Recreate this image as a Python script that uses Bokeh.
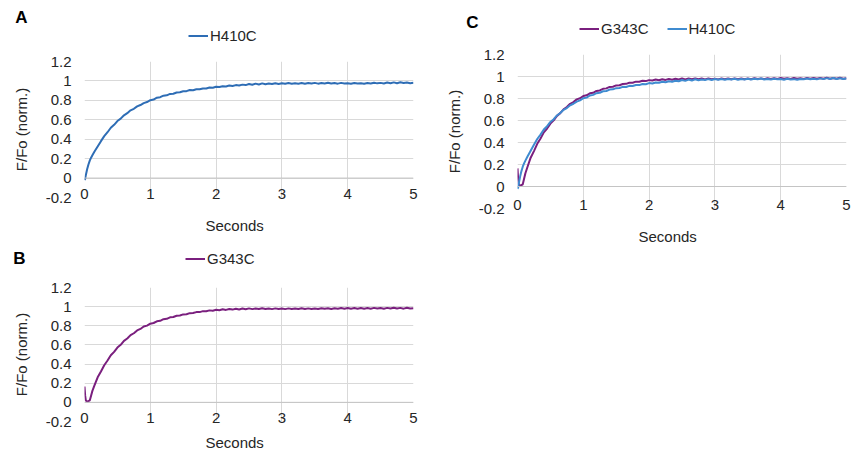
from bokeh.plotting import figure
from bokeh.models import (Range1d, FixedTicker, Legend, LegendItem, Span, Title)
from bokeh.layouts import row, column
from bokeh.embed import file_html
from bokeh.resources import INLINE

FONT = "Liberation Sans"

# ---- data ----
t = [0.0, 0.01, 0.02, 0.04, 0.06, 0.08, 0.10, 0.12, 0.15,
     0.20, 0.25, 0.30, 0.35, 0.40, 0.45, 0.50, 0.55, 0.60, 0.65,
     0.70, 0.75, 0.80, 0.85, 0.90, 0.95, 1.00, 1.05, 1.10, 1.15,
     1.20, 1.25, 1.30, 1.35, 1.40, 1.45, 1.50, 1.55, 1.60, 1.65,
     1.70, 1.75, 1.80, 1.85, 1.90, 1.95, 2.00, 2.05, 2.10, 2.15,
     2.20, 2.25, 2.30, 2.35, 2.40, 2.45, 2.50, 2.55, 2.60, 2.65,
     2.70, 2.75, 2.80, 2.85, 2.90, 2.95, 3.00, 3.05, 3.10, 3.15,
     3.20, 3.25, 3.30, 3.35, 3.40, 3.45, 3.50, 3.55, 3.60, 3.65,
     3.70, 3.75, 3.80, 3.85, 3.90, 3.95, 4.00, 4.05, 4.10, 4.15,
     4.20, 4.25, 4.30, 4.35, 4.40, 4.45, 4.50, 4.55, 4.60, 4.65,
     4.70, 4.75, 4.80, 4.85, 4.90, 4.95, 5.00]

h410c = [-0.02, -0.01, 0.03, 0.09, 0.14, 0.18, 0.21, 0.235, 0.27,
         0.325, 0.38, 0.432, 0.472, 0.518, 0.548, 0.587, 0.612, 0.646, 0.668,
         0.697, 0.713, 0.738, 0.752, 0.772, 0.783, 0.802, 0.808, 0.827, 0.833,
         0.848, 0.852, 0.866, 0.868, 0.881, 0.883, 0.894, 0.895, 0.906, 0.904,
         0.915, 0.914, 0.923, 0.922, 0.932, 0.929, 0.940, 0.937, 0.946, 0.943,
         0.952, 0.948, 0.957, 0.953, 0.962, 0.957, 0.968, 0.960, 0.972, 0.963,
         0.975, 0.966, 0.973, 0.968, 0.976, 0.969, 0.977, 0.970, 0.978, 0.971,
         0.977, 0.972, 0.979, 0.971, 0.978, 0.973, 0.980, 0.972, 0.979, 0.974,
         0.981, 0.973, 0.978, 0.972, 0.980, 0.974, 0.977, 0.971, 0.979, 0.973,
         0.976, 0.970, 0.978, 0.974, 0.982, 0.975, 0.980, 0.974, 0.983, 0.976,
         0.985, 0.977, 0.986, 0.978, 0.984, 0.977, 0.982]

g343c = [0.165, 0.07, 0.02, 0.008, 0.012, 0.02, 0.07, 0.12, 0.175,
         0.262, 0.322, 0.388, 0.437, 0.492, 0.527, 0.572, 0.601, 0.642, 0.667,
         0.702, 0.722, 0.752, 0.767, 0.792, 0.802, 0.822, 0.829, 0.847, 0.852,
         0.869, 0.873, 0.888, 0.892, 0.905, 0.907, 0.919, 0.921, 0.932, 0.933,
         0.943, 0.943, 0.953, 0.952, 0.961, 0.958, 0.967, 0.963, 0.972, 0.966,
         0.975, 0.969, 0.978, 0.971, 0.980, 0.973, 0.982, 0.974, 0.981, 0.975,
         0.983, 0.975, 0.981, 0.974, 0.982, 0.975, 0.980, 0.974, 0.982, 0.976,
         0.981, 0.975, 0.983, 0.976, 0.982, 0.975, 0.981, 0.976, 0.984, 0.977,
         0.983, 0.976, 0.984, 0.978, 0.985, 0.978, 0.986, 0.979, 0.985, 0.978,
         0.986, 0.979, 0.985, 0.978, 0.987, 0.980, 0.986, 0.979, 0.987, 0.980,
         0.988, 0.980, 0.987, 0.979, 0.988, 0.980, 0.984]

x_ticks = [0, 1, 2, 3, 4, 5]
x_tick_labels = ["0", "1", "2", "3", "4", "5"]
y_ticks = [-0.2, 0, 0.2, 0.4, 0.6, 0.8, 1, 1.2]
y_tick_labels = ["-0.2", "0", "0.2", "0.4", "0.6", "0.8", "1", "1.2"]

BLUE_A = "#2e6db5"
BLUE_C = "#3f8bd0"
PURPLE = "#7a1f7e"
GRID = "#d9d9d9"
TXT = "#262626"


def make_header(letter, series, width, height, legend_x, legend_y, letter_pos, letter_standoff):
    # header strip: panel letter (as a left-axis label) and the legend
    h = figure(width=width, height=height, output_backend="svg", toolbar_location=None,
               x_range=Range1d(100, 100 + width), y_range=Range1d(0, height),
               x_axis_type=None,
               min_border=0, min_border_left=0, min_border_right=0,
               min_border_top=0, min_border_bottom=0)
    h.title.visible = False
    h.outline_line_color = None
    h.grid.visible = False
    ax = h.yaxis[0]
    ax.ticker = FixedTicker(ticks=[letter_pos])
    ax.major_label_overrides = {letter_pos: letter}
    ax.axis_line_color = None
    ax.major_tick_line_color = None
    ax.minor_tick_line_color = None
    ax.major_tick_out = 0
    ax.major_tick_in = 0
    ax.minor_tick_out = 0
    ax.minor_tick_in = 0
    ax.major_label_standoff = letter_standoff
    ax.major_label_text_font = FONT
    ax.major_label_text_font_size = "17px"
    ax.major_label_text_font_style = "bold"
    ax.major_label_text_color = "black"

    items = []
    for name, xs, ys, color in series:
        r = h.line(xs, ys, line_color=color, line_width=2)
        items.append(LegendItem(label=name, renderers=[r]))
    legend = Legend(items=items, orientation="horizontal", location=(legend_x, legend_y),
                    label_text_font=FONT, label_text_font_size="15px", label_text_color=TXT,
                    glyph_width=20, glyph_height=17, label_height=17, label_standoff=2,
                    spacing=18, padding=0, margin=0, border_line_color=None,
                    background_fill_alpha=0)
    h.add_layout(legend, "center")
    return h


def make_panel(series, width, height, bl, br, bt, bb, title_offset, title_standoff):
    p = figure(width=width, height=height, output_backend="svg", toolbar_location=None,
               x_range=Range1d(0, 5), y_range=Range1d(-0.2, 1.2),
               min_border_left=bl, min_border_right=br,
               min_border_top=bt, min_border_bottom=bb)
    p.title.visible = False
    p.outline_line_color = None

    p.xaxis.ticker = FixedTicker(ticks=x_ticks)
    p.yaxis.ticker = FixedTicker(ticks=y_ticks)
    p.xaxis.major_label_overrides = dict(zip(x_ticks, x_tick_labels))
    p.yaxis.major_label_overrides = dict(zip(y_ticks, y_tick_labels))
    p.xgrid.ticker = FixedTicker(ticks=x_ticks)
    p.ygrid.ticker = FixedTicker(ticks=y_ticks)
    p.grid.grid_line_color = GRID
    p.grid.grid_line_width = 1

    for ax in (p.xaxis, p.yaxis):
        ax.axis_line_color = None
        ax.major_tick_line_color = None
        ax.minor_tick_line_color = None
        ax.major_tick_out = 0
        ax.major_tick_in = 0
        ax.minor_tick_out = 0
        ax.minor_tick_in = 0
        ax.major_label_text_font = FONT
        ax.major_label_text_font_size = "15px"
        ax.major_label_text_color = TXT

    p.yaxis.major_label_standoff = 13
    p.yaxis.axis_label = "F/Fo (norm.)"
    p.yaxis.axis_label_text_font = FONT
    p.yaxis.axis_label_text_font_size = "15px"
    p.yaxis.axis_label_text_font_style = "normal"
    p.yaxis.axis_label_text_color = TXT
    p.yaxis.axis_label_standoff = 13

    p.xaxis.major_label_standoff = -9

    p.add_layout(Span(location=0, dimension="width", line_color="#c4c4c4", line_width=1))

    for name, xs, ys, color in series:
        p.line(xs, ys, line_color=color, line_width=2)

    p.add_layout(Title(text="Seconds", align="left", offset=title_offset,
                       text_font=FONT, text_font_size="15px", text_font_style="normal",
                       text_color=TXT, standoff=title_standoff), "below")
    return p


sA = [("H410C", t, h410c, BLUE_A)]
sB = [("G343C", t, g343c, PURPLE)]
sC = [("G343C", t, g343c, PURPLE), ("H410C", t, h410c, BLUE_C)]

hA = make_header("A", sA, 430, 48, 104, 4, 31, 57)
pA = make_panel(sA, 430, 200, 84, 17, 13, 51, 121, 27)

hB = make_header("B", sB, 430, 24, 101, 5, 14, 59)
pB = make_panel(sB, 430, 185, 84, 17, 15, 36, 121, 12)

hC = make_header("C", sC, 421, 44, 62, 7, 22, 39)
pC = make_panel(sC, 421, 215, 87, 5, 10, 51, 121, 27)

layout = row(column(hA, pA, hB, pB), column(hC, pC))
open("out.html", "w").write(file_html(layout, INLINE))
